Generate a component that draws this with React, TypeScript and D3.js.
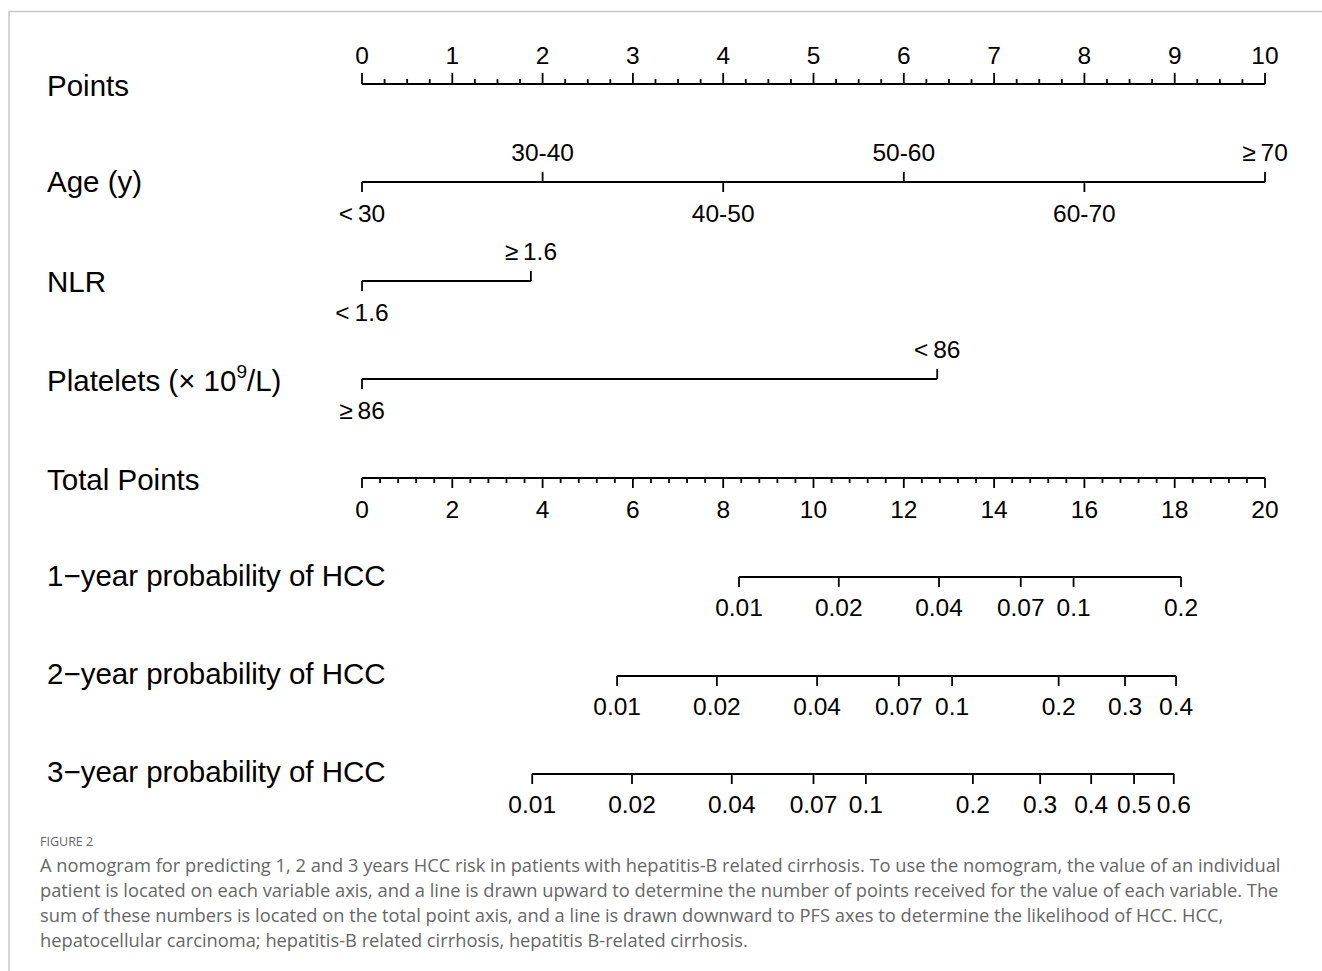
import * as d3 from 'd3';
import { useEffect } from 'react';

const W = 1322;
const H = 971;

// Points scale
const pointTicks = [0, 1, 2, 3, 4, 5, 6, 7, 8, 9, 10];
const totalTicks = [0, 2, 4, 6, 8, 10, 12, 14, 16, 18, 20];

// variable axes: label + points
const ageLabels = ['<\u200930', '30-40', '40-50', '50-60', '60-70', '\u2265\u200970'];
const agePoints = [0, 2, 4, 6, 8, 10];
const nlrLabels = ['<\u20091.6', '\u2265\u20091.6'];
const nlrPoints = [0, 1.87];
const pltLabels = ['\u2265\u200986', '<\u200986'];
const pltPoints = [0, 6.37];

// probability axes: label + total points
const p1Labels = ['0.01', '0.02', '0.04', '0.07', '0.1', '0.2'];
const p1Total = [8.35, 10.56, 12.78, 14.59, 15.76, 18.14];
const p2Labels = ['0.01', '0.02', '0.04', '0.07', '0.1', '0.2', '0.3', '0.4'];
const p2Total = [5.65, 7.86, 10.08, 11.89, 13.07, 15.43, 16.9, 18.03];
const p3Labels = ['0.01', '0.02', '0.04', '0.07', '0.1', '0.2', '0.3', '0.4', '0.5', '0.6'];
const p3Total = [3.77, 5.98, 8.19, 10.0, 11.16, 13.53, 15.02, 16.15, 17.1, 17.98];

const caption = [
  'A nomogram for predicting 1, 2 and 3 years HCC risk in patients with hepatitis-B related cirrhosis. To use the nomogram, the value of an individual',
  'patient is located on each variable axis, and a line is drawn upward to determine the number of points received for the value of each variable. The',
  'sum of these numbers is located on the total point axis, and a line is drawn downward to PFS axes to determine the likelihood of HCC. HCC,',
  'hepatocellular carcinoma; hepatitis-B related cirrhosis, hepatitis B-related cirrhosis.',
];

const font = "'Liberation Sans', Arial, sans-serif";
const rowSize = 29.5;
const tickSize = 24.5;
const sw = 1.8;

export default function App() {
  useEffect(() => {
    document.body.style.margin = '0';
  }, []);

  const xP = d3.scaleLinear().domain([0, 10]).range([362, 1265]);
  const xT = d3.scaleLinear().domain([0, 20]).range([362, 1265]);

  const rows = [
    { name: 'Points', y: 85 },
    { name: 'Age (y)', y: 181 },
    { name: 'NLR', y: 281 },
    { name: 'Platelets', y: 380 },
    { name: 'Total Points', y: 479 },
    { name: '1\u2212year probability of HCC', y: 575 },
    { name: '2\u2212year probability of HCC', y: 673 },
    { name: '3\u2212year probability of HCC', y: 771 },
  ];

  // categorical axis with alternating labels
  const catAxis = (labels: string[], pts: number[], y: number, firstUp: boolean) => {
    const x0 = xP(d3.min(pts)!);
    const x1 = xP(d3.max(pts)!);
    return (
      <g>
        <line x1={x0} x2={x1} y1={y} y2={y} stroke="#000" strokeWidth={sw} />
        {labels.map((l, i) => {
          const up = firstUp ? i % 2 === 0 : i % 2 === 1;
          const x = xP(pts[i]);
          return (
            <g key={l}>
              <line x1={x} x2={x} y1={y} y2={up ? y - 10 : y + 10} stroke="#000" strokeWidth={sw} />
              <text x={x} y={up ? y - 30 : y + 31} textAnchor="middle" dominantBaseline="central" fontSize={tickSize}>
                {l}
              </text>
            </g>
          );
        })}
      </g>
    );
  };

  const probAxis = (labels: string[], tot: number[], y: number) => (
    <g>
      <line x1={xT(tot[0])} x2={xT(tot[tot.length - 1])} y1={y} y2={y} stroke="#000" strokeWidth={sw} />
      {labels.map((l, i) => (
        <g key={l}>
          <line x1={xT(tot[i])} x2={xT(tot[i])} y1={y} y2={y + 10} stroke="#000" strokeWidth={sw} />
          <text x={xT(tot[i])} y={y + 30} textAnchor="middle" dominantBaseline="central" fontSize={tickSize}>
            {l}
          </text>
        </g>
      ))}
    </g>
  );

  const minorP = d3.range(0, 10.001, 0.25);
  const minorT = d3.range(0, 20.001, 0.4);

  return (
    <svg width={W} height={H} style={{ display: 'block', background: '#fff' }} fontFamily={font}>
      <path d={`M9,${H} V11.5 H${W}`} fill="none" stroke="#c8c8c8" strokeWidth={1.5} />

      {rows.map((r) => (
        <text key={r.name} x={47} y={r.y} dominantBaseline="central" fontSize={rowSize}>
          {r.name === 'Platelets' ? (
            <>
              Platelets (× 10
              <tspan fontSize={19} dy={-9}>9</tspan>
              <tspan dy={9}>/L)</tspan>
            </>
          ) : (
            r.name
          )}
        </text>
      ))}

      {/* Points axis */}
      <g>
        <line x1={xP(0)} x2={xP(10)} y1={84} y2={84} stroke="#000" strokeWidth={sw} />
        {minorP.map((v) => (
          <line key={v} x1={xP(v)} x2={xP(v)} y1={84} y2={Number.isInteger(v) ? 73 : 79} stroke="#000" strokeWidth={sw} />
        ))}
        {pointTicks.map((v) => (
          <text key={v} x={xP(v)} y={55} textAnchor="middle" dominantBaseline="central" fontSize={tickSize}>
            {v}
          </text>
        ))}
      </g>

      {catAxis(ageLabels, agePoints, 182, false)}
      {catAxis(nlrLabels, nlrPoints, 281, false)}
      {catAxis(pltLabels, pltPoints, 379, false)}

      {/* Total points axis */}
      <g>
        <line x1={xT(0)} x2={xT(20)} y1={478} y2={478} stroke="#000" strokeWidth={sw} />
        {minorT.map((v, i) => (
          <line key={i} x1={xT(v)} x2={xT(v)} y1={478} y2={i % 5 === 0 ? 488 : 483} stroke="#000" strokeWidth={sw} />
        ))}
        {totalTicks.map((v) => (
          <text key={v} x={xT(v)} y={509} textAnchor="middle" dominantBaseline="central" fontSize={tickSize}>
            {v}
          </text>
        ))}
      </g>

      {probAxis(p1Labels, p1Total, 577)}
      {probAxis(p2Labels, p2Total, 676)}
      {probAxis(p3Labels, p3Total, 774)}

      <g fontFamily="'Open Sans', sans-serif" fill="#666">
        <text x={40} y={841} dominantBaseline="central" fontSize={12.5}>
          FIGURE 2
        </text>
        {caption.map((c, i) => (
          <text key={i} x={40} y={864 + i * 25} dominantBaseline="central" fontSize={18.3}>
            {c}
          </text>
        ))}
      </g>
    </svg>
  );
}
